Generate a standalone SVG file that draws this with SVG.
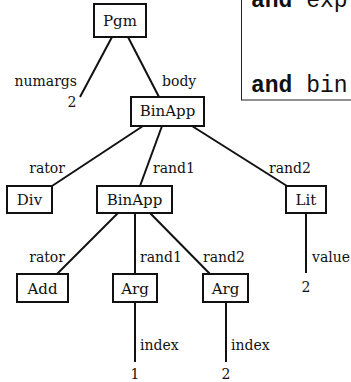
<svg xmlns="http://www.w3.org/2000/svg" width="351" height="382" viewBox="0 0 351 382">
<style>
.box{fill:#fff;stroke:#111;stroke-width:2}
.e{stroke:#111;stroke-width:2;fill:none;stroke-linecap:butt}
.n{font-family:"DejaVu Serif",serif;font-size:15px;fill:#111;text-anchor:middle}
.l{font-family:"DejaVu Serif",serif;font-size:14px;fill:#111}
.r{text-anchor:end}
.c{text-anchor:middle}
.m{font-family:"Liberation Mono",monospace;font-size:23px;fill:#111}
</style>
<rect width="351" height="382" fill="#fff"/>
<g id="code">
<rect x="241.5" y="-10" width="130" height="110" fill="#fff" stroke="#222" stroke-width="1"/>
<text class="m" x="251" y="7"><tspan font-weight="bold">and</tspan> exp</text>
<text class="m" x="251" y="92"><tspan font-weight="bold">and</tspan> bin</text>
</g>
<g id="connectors">
<line class="e" x1="112" y1="37" x2="80" y2="97"/>
<line class="e" x1="128" y1="37" x2="159" y2="97"/>
<line class="e" x1="143" y1="126" x2="52" y2="186"/>
<line class="e" x1="162" y1="126" x2="140" y2="186"/>
<line class="e" x1="192" y1="126" x2="287" y2="186"/>
<line class="e" x1="306" y1="213" x2="306" y2="273"/>
<line class="e" x1="118" y1="213" x2="57" y2="274"/>
<line class="e" x1="135" y1="213" x2="135" y2="274"/>
<line class="e" x1="150" y1="213" x2="210" y2="274"/>
<line class="e" x1="135" y1="302" x2="135" y2="362"/>
<line class="e" x1="226" y1="302" x2="226" y2="362"/>
<text class="l r" x="77" y="86">numargs</text>
<text class="l" x="162" y="86">body</text>
<text class="l r" x="65" y="173">rator</text>
<text class="l" x="153" y="173">rand1</text>
<text class="l" x="269" y="173">rand2</text>
<text class="l" x="312" y="262">value</text>
<text class="l r" x="65" y="262">rator</text>
<text class="l" x="140" y="262">rand1</text>
<text class="l" x="203" y="262">rand2</text>
<text class="l" x="140" y="350">index</text>
<text class="l" x="231" y="350">index</text>
</g>
<g id="pgm"><rect class="box" x="94" y="4" width="52" height="33"/><text class="n" x="120" y="26">Pgm</text></g>
<g id="numargs-val"><text class="l c" x="72" y="107">2</text></g>
<g id="binapp1"><rect class="box" x="131" y="97" width="73" height="29"/><text class="n" x="167.5" y="116">BinApp</text></g>
<g id="div"><rect class="box" x="7" y="186" width="45" height="27"/><text class="n" x="29.5" y="205">Div</text></g>
<g id="binapp2"><rect class="box" x="97" y="186" width="75" height="27"/><text class="n" x="134.5" y="205">BinApp</text></g>
<g id="lit"><rect class="box" x="286" y="186" width="40" height="27"/><text class="n" x="306" y="205">Lit</text></g>
<g id="lit-val"><text class="l c" x="306" y="292">2</text></g>
<g id="add"><rect class="box" x="17" y="274" width="51" height="28"/><text class="n" x="42.5" y="294">Add</text></g>
<g id="arg1"><rect class="box" x="113" y="274" width="44" height="28"/><text class="n" x="135" y="294">Arg</text></g>
<g id="arg2"><rect class="box" x="203" y="274" width="45" height="28"/><text class="n" x="225.5" y="294">Arg</text></g>
<g id="arg1-val"><text class="l c" x="135" y="379">1</text></g>
<g id="arg2-val"><text class="l c" x="226" y="379">2</text></g>
</svg>
